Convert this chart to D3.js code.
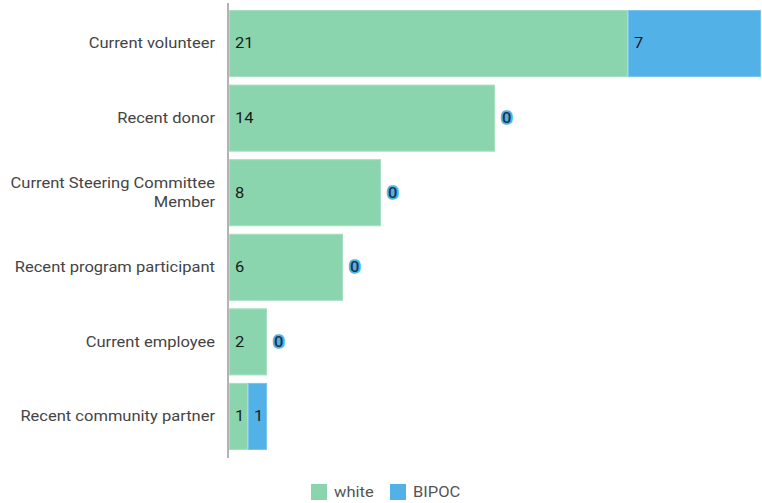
<!DOCTYPE html>
<html>
<head>
<meta charset="utf-8">
<script src="https://cdn.jsdelivr.net/npm/d3@7"></script>
<style>
  html, body { margin: 0; padding: 0; background: #fff; }
  svg { display: block; font-family: Roboto, "Noto Sans", sans-serif; }
</style>
</head>
<body>
<svg id="chart" width="762" height="503"></svg>
<script>
// Respondent roles, split by identity
const categories = [
  ["Current volunteer"],
  ["Recent donor"],
  ["Current Steering Committee", "Member"],
  ["Recent program participant"],
  ["Current employee"],
  ["Recent community partner"]
];
const seriesNames = ["white", "BIPOC"];
const whiteValues = [21, 14, 8, 6, 2, 1];
const bipocValues = [7, 0, 0, 0, 0, 1];
const seriesColors = ["#8bd5ae", "#52b1e6"];
const strokeColors = ["#a6e0c2", "#7cc4ee"];

(function () {
  const svg = d3.select("#chart");
  const plotLeft = 229, plotRight = 761, plotTop = 10, plotBottom = 450;
  const textStretch = 1.18; // glyphs are drawn slightly wide

  // places a text node at (px, py) with the horizontal stretch applied
  function placeText(sel, px, py) {
    return sel.attr("transform", `translate(${px},${py}) scale(${textStretch},1)`);
  }

  const keys = categories.map(c => c.join(" "));
  const rows = keys.map((k, i) => ({ key: k, white: whiteValues[i], BIPOC: bipocValues[i] }));
  const stack = d3.stack().keys(seriesNames)(rows);

  const maxTotal = d3.max(rows, r => r.white + r.BIPOC);
  const x = d3.scaleLinear().domain([0, maxTotal]).range([plotLeft, plotRight]);
  const y = d3.scaleBand().domain(keys).range([plotTop, plotBottom]).paddingInner(0.1).paddingOuter(0);

  // bars
  stack.forEach((layer, si) => {
    svg.append("g").selectAll("rect").data(layer.filter(d => d[1] - d[0] > 0)).join("rect")
      .attr("x", d => x(d[0]) + 0.5)
      .attr("y", d => y(d.data.key) + 0.5)
      .attr("width", d => Math.max(0, x(d[1]) - x(d[0]) - 1))
      .attr("height", y.bandwidth() - 1)
      .attr("fill", seriesColors[si])
      .attr("stroke", strokeColors[si])
      .attr("stroke-width", 1);
  });

  // value labels
  stack.forEach((layer, si) => {
    const g = svg.append("g").attr("font-size", 14);
    layer.forEach(d => {
      const v = d[1] - d[0];
      const cy = y(d.data.key) + y.bandwidth() / 2;
      if (v > 0) {
        placeText(g.append("text"), x(d[0]) + 6, cy)
          .attr("dy", "0.35em")
          .attr("fill", "#1a1a1a")
          .text(v);
      } else {
        // zero segment: label just past the bar end with a halo in the series colour
        placeText(g.append("text"), x(d[0]) + 7, cy)
          .attr("dy", "0.35em")
          .attr("font-weight", 500)
          .attr("fill", "none")
          .attr("stroke", seriesColors[si])
          .attr("stroke-width", 3.5)
          .attr("stroke-linejoin", "round")
          .text(v);
        placeText(g.append("text"), x(d[0]) + 7, cy)
          .attr("dy", "0.35em")
          .attr("font-weight", 500)
          .attr("fill", "#1a3550")
          .text(v);
      }
    });
  });

  // category axis
  const yAxis = d3.axisLeft(y).tickSize(0).tickFormat(() => "");
  const ax = svg.append("g").attr("transform", `translate(${plotLeft - 1},0)`).call(yAxis);
  ax.select(".domain").remove();
  svg.append("line")
    .attr("x1", plotLeft - 1).attr("x2", plotLeft - 1)
    .attr("y1", 3).attr("y2", 458)
    .attr("stroke", "#b3b3b3").attr("stroke-width", 2);

  const labels = svg.append("g").attr("font-size", 14).attr("fill", "#444").attr("text-anchor", "end");
  const lh = 19;
  categories.forEach((lines, i) => {
    const cy = y(keys[i]) + y.bandwidth() / 2;
    const y0 = cy - (lines.length - 1) * lh / 2;
    lines.forEach((ln, j) => {
      placeText(labels.append("text"), 215, y0 + j * lh).attr("dy", "0.35em").text(ln);
    });
  });

  // legend
  const legend = svg.append("g").attr("font-size", 14).attr("fill", "#555");
  const legendX = [311, 390];
  seriesNames.forEach((n, i) => {
    legend.append("rect").attr("x", legendX[i]).attr("y", 484).attr("width", 16).attr("height", 16)
      .attr("fill", seriesColors[i]);
    placeText(legend.append("text"), legendX[i] + 23, 492).attr("dy", "0.35em").text(n);
  });
})();
</script>
</body>
</html>
